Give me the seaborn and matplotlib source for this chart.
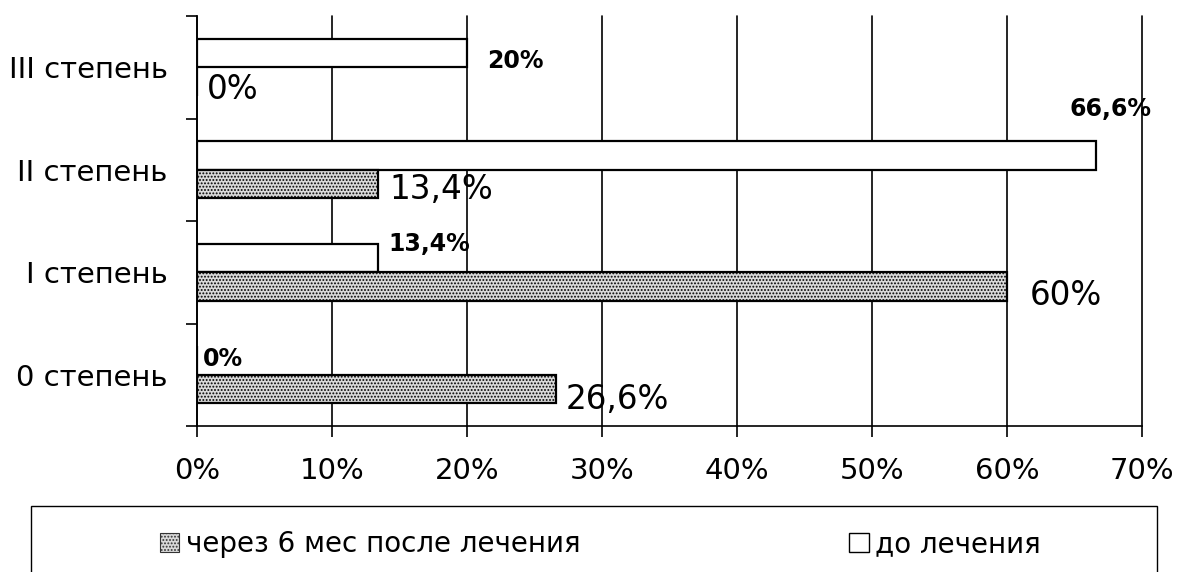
import matplotlib
matplotlib.use("Agg")
import matplotlib.pyplot as plt
from matplotlib.patches import Patch, Rectangle
from matplotlib.ticker import FixedLocator
import seaborn as sns
import pandas as pd

# ---- data ----
categories = ["III степень", "II степень", "I степень", "0 степень"]
series_names = ["до лечения", "через 6 мес после лечения"]
before_values = [20.0, 66.6, 13.4, 0.0]
after_values = [0.0, 13.4, 60.0, 26.6]
x_ticks = [0, 10, 20, 30, 40, 50, 60, 70]

df = pd.DataFrame({
    "cat": categories * 2,
    "series": [series_names[0]] * 4 + [series_names[1]] * 4,
    "val": before_values + after_values,
})

sns.set_theme(style="white")
plt.rcParams["font.family"] = ["DejaVu Sans"]
plt.rcParams["text.color"] = "black"
plt.rcParams["hatch.linewidth"] = 0.9
plt.rcParams["hatch.color"] = "#333333"

STIPPLE_FACE = "#d9d9d9"

fig = plt.figure(figsize=(11.77, 5.72), dpi=100)
ax = fig.add_axes([197 / 1177, 1 - 426 / 572, 945 / 1177, 410 / 572])

sns.barplot(data=df, y="cat", x="val", hue="series", order=categories,
            hue_order=series_names, orient="h", palette=["white", "white"],
            edgecolor="black", linewidth=1.6, width=0.556, gap=0,
            errorbar=None, legend=False, ax=ax, saturation=1)

# stipple for the "after" series
for p in ax.containers[1]:
    p.set_hatch(".....")
    p.set_facecolor(STIPPLE_FACE)

ax.set_xlim(0, 70)
ax.set_ylim(3.5, -0.5)
ax.set_xticks(x_ticks)
ax.set_xticklabels([f"{t}%" for t in x_ticks], fontsize=21)
ax.tick_params(axis="x", direction="out", length=8, width=1.2, color="black",
               labelcolor="black", pad=14, bottom=True)
ax.xaxis.grid(True, color="black", linewidth=1.2)
ax.yaxis.grid(False)
ax.set_axisbelow(True)
for gl in ax.get_xgridlines():
    gl.set_clip_on(False)

ax.yaxis.set_major_locator(FixedLocator([-0.5, 0.5, 1.5, 2.5, 3.5]))
ax.yaxis.set_major_formatter(plt.NullFormatter())
ax.yaxis.set_minor_locator(FixedLocator([0, 1, 2, 3]))
ax.set_yticklabels(categories, minor=True, fontsize=21)
ax.tick_params(axis="y", which="major", direction="out", length=8, width=1.2,
               color="black", left=True)
ax.tick_params(axis="y", which="minor", length=0, pad=21, left=True,
               labelcolor="black")

ax.set_xlabel("")
ax.set_ylabel("")
for s in ["top", "right"]:
    ax.spines[s].set_visible(False)
for s in ["left", "bottom"]:
    ax.spines[s].set_color("black")
    ax.spines[s].set_linewidth(1.2)


def fmt(v):
    return f"{v:g}".replace(".", ",") + "%"


# label offsets in pixels (dx, dy)
before_offsets = [(20, -8), (-27, 47), (10, 14), (6, 2)]
after_offsets = [(10, -8), (12, -6), (23, -9), (10, -11)]

for cont, offs, style in [(ax.containers[0], before_offsets, dict(fontsize=17, fontweight="bold")),
                          (ax.containers[1], after_offsets, dict(fontsize=23.5))]:
    for p, (dx, dy) in zip(cont, offs):
        v = p.get_width()
        yc = p.get_y() + p.get_height() / 2
        ax.annotate(fmt(v), xy=(v, yc), xytext=(dx, dy), textcoords="offset pixels",
                    ha="left", va="center", color="black", **style)

# legend
handles = [Patch(facecolor=STIPPLE_FACE, edgecolor="#333333", hatch=".....", linewidth=0.8),
           Patch(facecolor="white", edgecolor="black", linewidth=1.0)]
fig.legend(handles, [series_names[1], series_names[0]], loc="center left",
           bbox_to_anchor=(160 / 1177, 1 - 544 / 572), ncol=2, frameon=False,
           fontsize=20, handlelength=0.7, handleheight=0.7, handletextpad=0.25,
           columnspacing=9.65, borderpad=0, borderaxespad=0, labelcolor="black")
fig.patches.append(Rectangle((31 / 1177, -0.05), 1126 / 1177, 0.05 + (572 - 506) / 572,
                             transform=fig.transFigure, fill=False,
                             edgecolor="black", linewidth=1.0))

fig.savefig("out.png", dpi=100)
